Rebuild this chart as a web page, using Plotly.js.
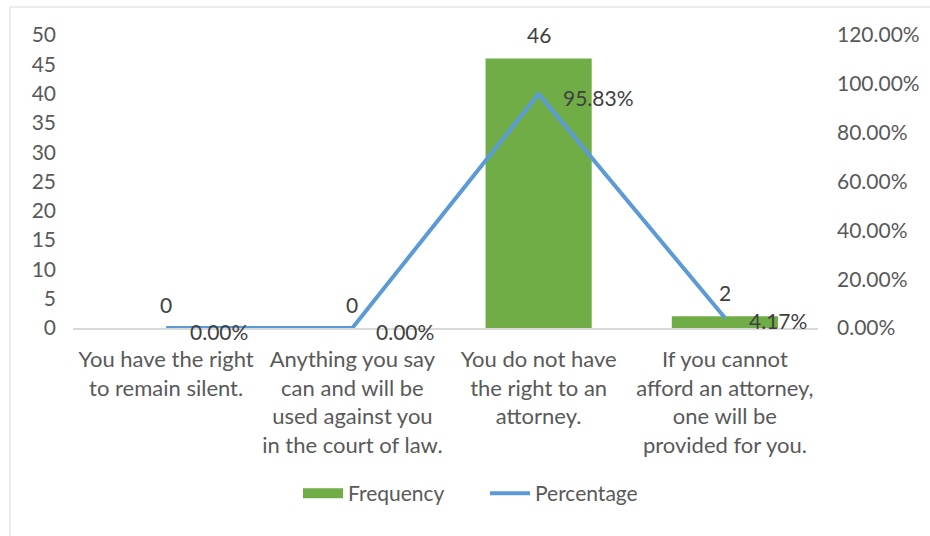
<!DOCTYPE html>
<html><head><meta charset="utf-8">
<script src="https://cdn.plot.ly/plotly-3.0.1.min.js"></script>
<style>html,body{margin:0;padding:0;background:#fff}#c{width:930px;height:536px}</style>
</head><body><div id="c"></div>
<script>
const categories = [
  "You have the right<br>to remain silent.",
  "Anything you say<br>can and will be<br>used against you<br>in the court of law.",
  "You do not have<br>the right to an<br>attorney.",
  "If you cannot<br>afford an attorney,<br>one will be<br>provided for you."
];
const frequency = [0, 0, 46, 2];
const percentage = [0, 0, 0.9583, 0.0417];
const freqLabels = ["0", "0", "46", "2"];
const pctLabels = ["0.00%", "0.00%", "95.83%", "4.17%"];

const FONT = "Lato, 'Open Sans', sans-serif";
const GREY = "#595959";
const FS = 21;

const traces = [
  {type: "bar", name: "Frequency", x: categories, y: frequency, showlegend: false,
   marker: {color: "#70AD47"}, width: 0.57, yaxis: "y", hoverinfo: "none"},
  {type: "scatter", mode: "lines", name: "Frequency", x: [null], y: [null],
   line: {color: "#70AD47", width: 12}, yaxis: "y", hoverinfo: "none", legendrank: 1},
  {type: "scatter", mode: "lines", name: "Percentage", x: categories, y: percentage,
   line: {color: "#5B9BD5", width: 4}, yaxis: "y2", hoverinfo: "none", legendrank: 2}
];

const annotations = [];
categories.forEach((c, i) => {
  annotations.push({x: c, y: frequency[i], xref: "x", yref: "y", text: freqLabels[i],
    showarrow: false, yanchor: "middle", yshift: 24, font: {family: FONT, size: FS, color: "#404040"}});
  annotations.push({x: c, y: percentage[i], xref: "x", yref: "y2", text: pctLabels[i],
    showarrow: false, xanchor: "left", yanchor: "middle", xshift: 22, yshift: -3,
    font: {family: FONT, size: FS, color: "#404040"}});
});

const layout = {
  width: 930, height: 536,
  margin: {l: 73, r: 112, t: 35, b: 208},
  paper_bgcolor: "#fff", plot_bgcolor: "#fff",
  font: {family: FONT, size: FS, color: GREY},
  showlegend: true,
  legend: {orientation: "h", x: (298 - 73) / 745, xanchor: "left", y: -0.565, yanchor: "middle",
    font: {family: FONT, size: FS, color: GREY}, itemwidth: 40, tracegroupgap: 0,
    entrywidth: 132, entrywidthmode: "pixels"},
  bargap: 0.43,
  xaxis: {type: "category", showgrid: false, showline: true, linecolor: "#D9D9D9", linewidth: 1.5,
    ticks: "", tickfont: {family: FONT, size: 22, color: GREY}, ticklabelstandoff: 11, fixedrange: true},
  yaxis: {range: [0, 50], dtick: 5, showgrid: false, zeroline: false, showline: false,
    ticks: "", ticklabelstandoff: 16, tickfont: {family: FONT, size: FS, color: GREY}},
  yaxis2: {range: [0, 1.2], dtick: 0.2, tickformat: ".2%", overlaying: "y", side: "right",
    showgrid: false, zeroline: false, showline: false, ticks: "", ticklabelstandoff: 18,
    tickfont: {family: FONT, size: FS, color: GREY}},
  annotations: annotations,
  shapes: [{type: "rect", xref: "paper", yref: "paper",
    x0: (10 - 73) / 745, x1: (940 - 73) / 745, y0: (328 - 545) / 293, y1: (328 - 7) / 293,
    line: {color: "#D9D9D9", width: 1}, fillcolor: "rgba(0,0,0,0)", layer: "below"}]
};

Plotly.newPlot("c", traces, layout, {displayModeBar: false, staticPlot: true});
</script></body></html>
